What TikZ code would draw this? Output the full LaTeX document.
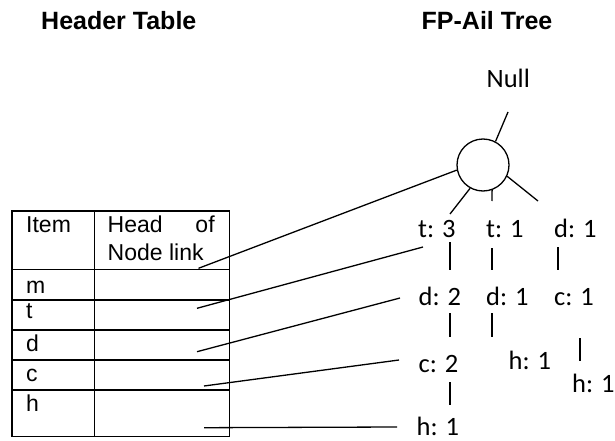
\documentclass[tikz,border=0pt]{standalone}
\usepackage{fontspec}
\setmainfont{Liberation Sans}
\newfontfamily\calfont{Carlito}
\begin{document}
\begin{tikzpicture}[x=1pt,y=-1pt,
  ln/.style={line width=1.3pt},
  ttl/.style={anchor=base west,inner sep=0pt,font=\fontsize{25}{30}\selectfont\bfseries},
  tbl/.style={anchor=base west,inner sep=0pt,font=\fontsize{23}{27}\selectfont},
  lab/.style={anchor=base west,inner sep=0pt,font=\calfont\fontsize{26.5}{32}\selectfont}]
\useasboundingbox (0,0) rectangle (615,441);
% titles
\node[ttl] (t1) at (41,29.5) {Header Table};
\node[ttl] (t2) at (421.5,29.3) {FP-Ail Tree};
% table
\draw[ln] (12,211) rectangle (229.3,436.5);
\draw[ln] (94.3,211) -- (94.3,436.5);
\foreach \yy in {269.3,300,330,360,390} \draw[ln] (12,\yy) -- (229.3,\yy);
\node[tbl] (item) at (26,232) {Item};
\node[tbl] (hd1) at (107.5,232) {\makebox[107pt][s]{Head\hfill of}};
\node[tbl] (hd2) at (107.5,260) {Node link};
\node[tbl] (rm) at (26,293.3) {m};
\node[tbl] (rt) at (26,318.3) {t};
\node[tbl] (rd) at (26,351.7) {d};
\node[tbl] (rc) at (26,381.7) {c};
\node[tbl] (rh) at (26,411.7) {h};
% tree
\node[lab] (null) at (486.5,87.3) {Null};
\node[circle,draw,line width=1.3pt,minimum size=52pt,inner sep=0pt] (root) at (483,165) {};
\node[lab] (t3) at (418,237.5) {t: 3};
\node[lab] (t1n) at (486,237.5) {t: 1};
\node[lab] (d1a) at (554,237.5) {d: 1};
\node[lab] (d2) at (418.5,305.5) {d: 2};
\node[lab] (d1b) at (486,305.5) {d: 1};
\node[lab] (c1) at (554,305.5) {c: 1};
\node[lab] (c2) at (418.5,372.5) {c: 2};
\node[lab] (h1a) at (508.5,369) {h: 1};
\node[lab] (h1b) at (572,392) {h: 1};
\node[lab] (h1c) at (416.5,435) {h: 1};
% coordinates
\coordinate (ntop) at (508,112);
\coordinate (e1) at (450,214);
\coordinate (e2) at (491.9,201);
\coordinate (e3) at (538,201);
\coordinate (s1) at (198.5,268.3);
\coordinate (s2) at (197,308.3);
\coordinate (s3) at (197,351.7);
\coordinate (s4) at (204,386);
\coordinate (s5) at (204,427.7);
\coordinate (f2) at (423,247);
\coordinate (f3) at (400,298);
\coordinate (f4) at (399,360);
\coordinate (f5) at (397,427);
\coordinate (b1a) at (450,242); \coordinate (b1b) at (450,270);
\coordinate (b2a) at (492,248); \coordinate (b2b) at (492,270);
\coordinate (b3a) at (558,247); \coordinate (b3b) at (558,270);
\coordinate (b4a) at (450,313); \coordinate (b4b) at (450,337);
\coordinate (b5a) at (492,313); \coordinate (b5b) at (492,337);
\coordinate (b6a) at (580,338); \coordinate (b6b) at (580,361);
\coordinate (b7a) at (450,382); \coordinate (b7b) at (450,405);
% connectors
\draw[ln] (ntop) -- (root.62);
\draw[ln] (root.241) -- (e1);
\draw[ln] (root.290) -- (e2);
\draw[ln] (root.335) -- (e3);
\draw[ln] (s1) -- (root.191);
\draw[ln] (s2) -- (f2);
\draw[ln] (s3) -- (f3);
\draw[ln] (s4) -- (f4);
\draw[ln] (s5) -- (f5);
\foreach \b in {b1,b2,b3,b4,b5,b6,b7} \draw[ln] (\b a) -- (\b b);
\end{tikzpicture}
\end{document}
